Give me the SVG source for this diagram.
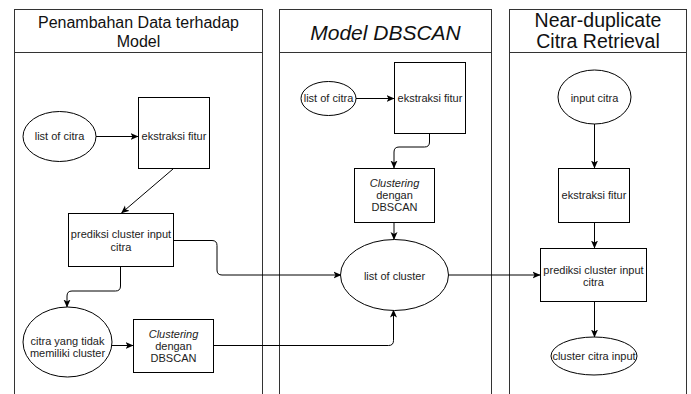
<svg xmlns="http://www.w3.org/2000/svg" width="691" height="394" viewBox="0 0 691 394">
  <style>
    .lane { fill: #ffffff; stroke: #333333; stroke-width: 1; }
    .node { fill: #ffffff; stroke: #000000; stroke-width: 1; }
    .edge { fill: none; stroke: #000000; stroke-width: 1; }
    .t { font-family: "Liberation Sans", Arial, sans-serif; font-size: 11px; fill: #222222; text-anchor: middle; }
    .title { font-family: "Liberation Sans", Arial, sans-serif; fill: #111111; text-anchor: middle; }
  </style>
  <defs>
    <marker id="arrow" viewBox="0 0 8 8" refX="7.5" refY="4" markerWidth="8" markerHeight="8" markerUnits="userSpaceOnUse" orient="auto">
      <path d="M0,0.5 L8,4 L0,7.5 L2,4 Z" fill="#000000"/>
    </marker>
  </defs>
  <rect width="691" height="394" fill="#ffffff"/>

  <!-- swimlanes -->
  <g id="lane-penambahan">
    <rect class="lane" x="14.5" y="9.5" width="248" height="400"/>
    <line class="lane" x1="14.5" y1="52.5" x2="262.5" y2="52.5"/>
    <text class="title" font-size="16" x="138.5" y="28">Penambahan Data terhadap</text>
    <text class="title" font-size="16" x="138.5" y="46.5">Model</text>
  </g>
  <g id="lane-model">
    <rect class="lane" x="279.5" y="9.5" width="212" height="400"/>
    <line class="lane" x1="279.5" y1="52.5" x2="491.5" y2="52.5"/>
    <text class="title" font-size="21" font-style="italic" x="385.5" y="39.5">Model DBSCAN</text>
  </g>
  <g id="lane-retrieval">
    <rect class="lane" x="509.5" y="9.5" width="177" height="400"/>
    <line class="lane" x1="509.5" y1="52.5" x2="686.5" y2="52.5"/>
    <text class="title" font-size="19.5" x="598" y="26.5">Near-duplicate</text>
    <text class="title" font-size="19.5" x="598" y="48">Citra Retrieval</text>
  </g>

  <!-- connectors -->
  <g id="connectors">
    <path class="edge" d="M96,136.5 H138" marker-end="url(#arrow)"/>
    <path class="edge" d="M173,169 L121.5,213" marker-end="url(#arrow)"/>
    <path class="edge" d="M173,240.5 H212 Q217,240.5 217,245.5 V270 Q217,275 222,275 H341" marker-end="url(#arrow)"/>
    <path class="edge" d="M120.5,266 V286 Q120.5,291 115.5,291 H72 Q67,291 67,296 V307" marker-end="url(#arrow)"/>
    <path class="edge" d="M112,345.5 H133" marker-end="url(#arrow)"/>
    <path class="edge" d="M213,345.5 H388.5 Q393.5,345.5 393.5,340.5 V310" marker-end="url(#arrow)"/>
    <path class="edge" d="M356,98.5 H394" marker-end="url(#arrow)"/>
    <path class="edge" d="M429.5,133 V142 Q429.5,147 424.5,147 H399 Q394,147 394,152 V168" marker-end="url(#arrow)"/>
    <path class="edge" d="M394,222 V239.5" marker-end="url(#arrow)"/>
    <path class="edge" d="M448.5,275 H540" marker-end="url(#arrow)"/>
    <path class="edge" d="M594.5,124 V168" marker-end="url(#arrow)"/>
    <path class="edge" d="M594.5,222 V248" marker-end="url(#arrow)"/>
    <path class="edge" d="M594.5,301 V337" marker-end="url(#arrow)"/>
  </g>

  <!-- Penambahan Data terhadap Model -->
  <g id="n-list-citra-1">
    <ellipse class="node" cx="59.5" cy="136.5" rx="36.5" ry="25"/>
    <text class="t" x="59.5" y="140">list of citra</text>
  </g>
  <g id="n-ekstraksi-1">
    <rect class="node" x="138.5" y="97.5" width="71" height="71"/>
    <text class="t" x="174" y="140">ekstraksi fitur</text>
  </g>
  <g id="n-prediksi-1">
    <rect class="node" x="68.5" y="213.5" width="105" height="53"/>
    <text class="t" x="121" y="238">prediksi cluster input</text>
    <text class="t" x="121" y="250.5">citra</text>
  </g>
  <g id="n-tanpa-cluster">
    <ellipse class="node" cx="67.5" cy="342" rx="44.5" ry="35"/>
    <text class="t" x="67.5" y="345">citra yang tidak</text>
    <text class="t" x="67.5" y="357">memiliki cluster</text>
  </g>
  <g id="n-clustering-1">
    <rect class="node" x="133.5" y="319.5" width="80" height="53"/>
    <text class="t" x="173.5" y="338" font-style="italic">Clustering</text>
    <text class="t" x="173.5" y="350">dengan</text>
    <text class="t" x="173.5" y="362">DBSCAN</text>
  </g>

  <!-- Model DBSCAN -->
  <g id="n-list-citra-2">
    <ellipse class="node" cx="328.5" cy="98.5" rx="27.5" ry="17"/>
    <text class="t" x="328.5" y="102">list of citra</text>
  </g>
  <g id="n-ekstraksi-2">
    <rect class="node" x="394.5" y="62.5" width="71" height="71"/>
    <text class="t" x="430" y="102">ekstraksi fitur</text>
  </g>
  <g id="n-clustering-2">
    <rect class="node" x="354.5" y="168.5" width="80" height="54"/>
    <text class="t" x="394.5" y="186.5" font-style="italic">Clustering</text>
    <text class="t" x="394.5" y="198.5">dengan</text>
    <text class="t" x="394.5" y="210.5">DBSCAN</text>
  </g>
  <g id="n-list-cluster">
    <ellipse class="node" cx="394.5" cy="275" rx="54" ry="35.5"/>
    <text class="t" x="394.5" y="279.5">list of cluster</text>
  </g>

  <!-- Near-duplicate Citra Retrieval -->
  <g id="n-input-citra">
    <ellipse class="node" cx="594.5" cy="97" rx="36.5" ry="27"/>
    <text class="t" x="594.5" y="101.5">input citra</text>
  </g>
  <g id="n-ekstraksi-3">
    <rect class="node" x="558.5" y="168.5" width="71" height="54"/>
    <text class="t" x="594" y="199">ekstraksi fitur</text>
  </g>
  <g id="n-prediksi-3">
    <rect class="node" x="540.5" y="248.5" width="106" height="53"/>
    <text class="t" x="593.5" y="273.5">prediksi cluster input</text>
    <text class="t" x="593.5" y="285.5">citra</text>
  </g>
  <g id="n-cluster-citra">
    <ellipse class="node" cx="594" cy="356" rx="43" ry="19"/>
    <text class="t" x="594" y="360">cluster citra input</text>
  </g>
</svg>
